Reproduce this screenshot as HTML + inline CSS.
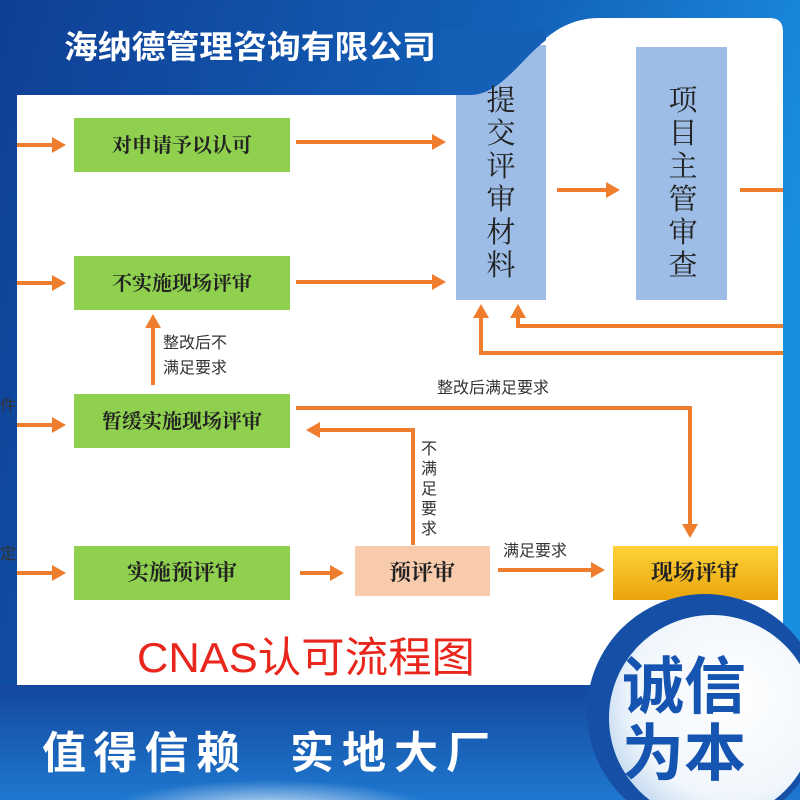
<!DOCTYPE html>
<html><head><meta charset="utf-8"><style>
body{margin:0;width:800px;height:800px;overflow:hidden;font-family:"Liberation Sans","Noto Sans CJK SC",sans-serif;}
</style></head><body>
<svg width="800" height="800" viewBox="0 0 800 800" xmlns="http://www.w3.org/2000/svg" style="font-family:'Liberation Sans','Noto Sans CJK SC',sans-serif">
<defs>
<linearGradient id="bg" x1="0" y1="0" x2="1" y2="0.3">
<stop offset="0" stop-color="#0f3f95"/><stop offset="0.6" stop-color="#1360b8"/><stop offset="1" stop-color="#1a8fe0"/></linearGradient>
<linearGradient id="bot" x1="0" y1="0" x2="0" y2="1">
<stop offset="0" stop-color="#13489e"/><stop offset="1" stop-color="#1f78d0"/></linearGradient>
<radialGradient id="circ" cx="0.6" cy="0.4" r="0.7"><stop offset="0" stop-color="#ffffff"/><stop offset="0.7" stop-color="#f0f6fc"/><stop offset="1" stop-color="#b9d4ee"/></radialGradient>
<radialGradient id="glow" cx="0.5" cy="0.5" r="0.5"><stop offset="0" stop-color="#ffffff" stop-opacity="0.8"/><stop offset="1" stop-color="#ffffff" stop-opacity="0"/></radialGradient>
<linearGradient id="yel" x1="0" y1="0" x2="0" y2="1"><stop offset="0" stop-color="#ffd23a"/><stop offset="1" stop-color="#eaa50c"/></linearGradient>
<marker id="ah" markerWidth="14" markerHeight="16" refX="4" refY="8" orient="auto" markerUnits="userSpaceOnUse"><path d="M0,0 L14,8 L0,16z" fill="#ee7d2e"/></marker>
</defs>
<rect width="800" height="800" fill="url(#bg)"/>
<rect y="685" width="800" height="115" fill="url(#bot)"/>
<ellipse cx="270" cy="810" rx="160" ry="30" fill="url(#glow)"/>
<path d="M17,95 L470,95 C520,95 530,18 600,18 L770,18 Q783,18 783,32 L783,610 L17,685 Z" fill="#fff"/>
<rect x="17" y="95" width="766" height="590" fill="#fff"/>
<text x="64" y="58" font-size="32" font-weight="bold" fill="#fff" textLength="372" lengthAdjust="spacingAndGlyphs">海纳德管理咨询有限公司</text>
<rect x="456" y="45" width="90" height="255" fill="#9dbde6"/>
<path d="M440,95 L470,95 C500,95 520,60 546,40 L546,30 L440,30Z" fill="#1560b6"/>
<rect x="636" y="47" width="91" height="253" fill="#9dbde6"/>
<g font-family="'Liberation Serif','Noto Serif CJK SC',serif" font-size="29" fill="#222" text-anchor="middle">
<text x="501" y="110">提</text><text x="501" y="143">交</text><text x="501" y="176">评</text><text x="501" y="209">审</text><text x="501" y="242">材</text><text x="501" y="275">料</text>
<text x="683" y="110">项</text><text x="683" y="143">目</text><text x="683" y="176">主</text><text x="683" y="209">管</text><text x="683" y="242">审</text><text x="683" y="275">查</text>
</g>
<rect x="74" y="118" width="216" height="54" fill="#8fd14f"/>
<rect x="74" y="256" width="216" height="54" fill="#8fd14f"/>
<rect x="74" y="394" width="216" height="54" fill="#8fd14f"/>
<rect x="74" y="546" width="216" height="54" fill="#8fd14f"/>
<rect x="355" y="546" width="135" height="50" fill="#f7cbac"/>
<rect x="613" y="546" width="165" height="54" fill="url(#yel)"/>
<g font-family="'Liberation Serif','Noto Serif CJK SC',serif" font-size="20" fill="#222" text-anchor="middle" font-weight="bold">
<text x="182" y="152">对申请予以认可</text>
<text x="182" y="290">不实施现场评审</text>
<text x="182" y="428">暂缓实施现场评审</text>
<text x="182" y="580" font-size="22">实施预评审</text>
<text x="422" y="580" font-size="22">预评审</text>
<text x="695" y="580" font-size="22">现场评审</text>
</g>
<g stroke="#ee7d2e" stroke-width="4" fill="none" marker-end="url(#ah)">
<line x1="17" y1="145" x2="56" y2="145"/>
<line x1="17" y1="283" x2="56" y2="283"/>
<line x1="17" y1="425" x2="56" y2="425"/>
<line x1="17" y1="573" x2="56" y2="573"/>
<line x1="296" y1="142" x2="436" y2="142"/>
<line x1="296" y1="282" x2="436" y2="282"/>
<line x1="557" y1="190" x2="610" y2="190"/>
<line x1="153" y1="385" x2="153" y2="324"/>
<polyline points="783,353 481,353 481,314"/>
<polyline points="783,326 518,326 518,314"/>
<polyline points="296,408 690,408 690,528"/>
<polyline points="413,545 413,430 316,430"/>
<line x1="300" y1="573" x2="334" y2="573"/>
<line x1="498" y1="570" x2="595" y2="570"/>
</g>
<line x1="740" y1="190" x2="783" y2="190" stroke="#ee7d2e" stroke-width="4"/>
<g font-size="16" fill="#333">
<text x="163" y="348">整改后不</text><text x="163" y="373">满足要求</text>
<text x="437" y="393">整改后满足要求</text>
<text x="503" y="556">满足要求</text>
<text x="0" y="411">件</text>
<text x="0" y="559">定</text>
<g text-anchor="middle"><text x="429" y="454">不</text><text x="429" y="474">满</text><text x="429" y="494">足</text><text x="429" y="514">要</text><text x="429" y="534">求</text></g>
</g>
<text x="137" y="672" font-size="42" fill="#e8261c" textLength="338" lengthAdjust="spacingAndGlyphs">CNAS认可流程图</text>
<circle cx="705" cy="712" r="118" fill="#1550a6"/>
<circle cx="712" cy="718" r="103" fill="url(#circ)"/>
<text x="42" y="768" font-size="44" font-weight="bold" fill="#fff" textLength="198" lengthAdjust="spacing">值得信赖</text>
<text x="290" y="768" font-size="44" font-weight="bold" fill="#fff" textLength="200" lengthAdjust="spacing">实地大厂</text>
<g font-size="62" font-weight="bold" fill="#1554b0">
<text x="622" y="708">诚信</text><text x="622" y="775">为本</text>
</g>
</svg>
</body></html>
